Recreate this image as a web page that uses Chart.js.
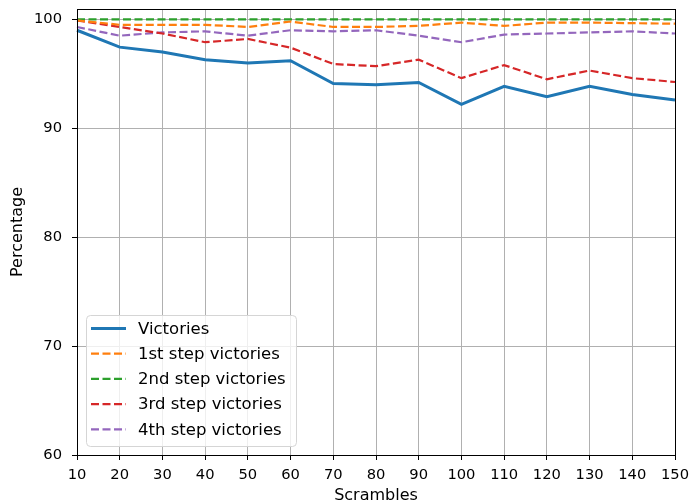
<!DOCTYPE html>
<html>
<head>
<meta charset="utf-8">
<script src="https://cdn.jsdelivr.net/npm/chart.js@4.4.0/dist/chart.umd.min.js"></script>
<style>
  html, body { margin: 0; padding: 0; background: #fff; }
  #box { width: 690px; height: 503px; }
</style>
</head>
<body>
<div id="box"><canvas id="grafico"></canvas></div>
<script>
// scrambles (x axis)
const scrambles = [10, 20, 30, 40, 50, 60, 70, 80, 90, 100, 110, 120, 130, 140, 150];

// percentages
const victories = [99.0, 97.45, 97.0, 96.3, 96.0, 96.2, 94.1, 94.0, 94.2, 92.2, 93.85, 92.9, 93.85, 93.1, 92.6];
const step1 = [99.9, 99.5, 99.5, 99.5, 99.3, 99.8, 99.3, 99.3, 99.4, 99.7, 99.4, 99.7, 99.7, 99.65, 99.6];
const step2 = [100, 100, 100, 100, 100, 100, 100, 100, 100, 100, 100, 100, 100, 100, 100];
const step3 = [99.9, 99.3, 98.7, 97.9, 98.2, 97.4, 95.9, 95.7, 96.3, 94.6, 95.8, 94.5, 95.3, 94.6, 94.25];
const step4 = [99.3, 98.5, 98.8, 98.9, 98.5, 99.0, 98.9, 99.0, 98.5, 97.9, 98.6, 98.7, 98.8, 98.9, 98.7];

const yTicks = [60, 70, 80, 90, 100];

const fonteTicks = { family: 'DejaVu Sans', size: 14.7 };
const fonteTitulo = { family: 'DejaVu Sans', size: 16 };

function serie(nome, valores, cor, tracejado){
  return {
    label: nome,
    data: valores,
    borderColor: cor,
    backgroundColor: cor,
    borderWidth: tracejado ? 2.2 : 3,
    borderDash: tracejado ? [8, 3.5] : [],
    pointRadius: 0,
    tension: 0,
    fill: false
  };
}

// sem padding extra dos rotulos, quem manda e o layout.padding
function semPadding(scale){
  scale.paddingTop = 0;
  scale.paddingBottom = 0;
  scale.paddingLeft = 0;
  scale.paddingRight = 0;
}

// legenda desenhada dentro da area do grafico
const legendaInterna = {
  id: 'legendaInterna',
  afterDatasetsDraw(chart){
    const ctx = chart.ctx;
    const area = chart.chartArea;
    const x = area.left + 9;
    const h = 131;
    const y = area.bottom - 9 - h;
    const w = 210;
    ctx.save();
    ctx.beginPath();
    ctx.roundRect(x + 0.5, y + 0.5, w, h, 4);
    ctx.fillStyle = 'rgba(255,255,255,0.8)';
    ctx.fill();
    ctx.strokeStyle = '#d5d5d5';
    ctx.lineWidth = 1;
    ctx.stroke();
    ctx.font = '16.5px "DejaVu Sans"';
    ctx.textBaseline = 'middle';
    chart.data.datasets.forEach((ds, i) => {
      const cy = y + 13.5 + i * 25.2;
      ctx.beginPath();
      ctx.setLineDash(ds.borderDash);
      ctx.strokeStyle = ds.borderColor;
      ctx.lineWidth = ds.borderWidth;
      ctx.moveTo(x + 5, cy);
      ctx.lineTo(x + 40, cy);
      ctx.stroke();
      ctx.setLineDash([]);
      ctx.fillStyle = '#000';
      ctx.fillText(ds.label, x + 52, cy + 1);
    });
    ctx.restore();
  }
};

// moldura preta em volta da area
const moldura = {
  id: 'moldura',
  afterDraw(chart){
    const a = chart.chartArea;
    const ctx = chart.ctx;
    ctx.save();
    ctx.strokeStyle = '#000';
    ctx.lineWidth = 1;
    ctx.strokeRect(Math.round(a.left) + 0.5, Math.round(a.top) + 0.5,
      Math.round(a.right - a.left), Math.round(a.bottom - a.top));
    ctx.restore();
  }
};

const grafico = document.getElementById('grafico');
new Chart(grafico, {
  type: 'line',
  data: {
    labels: scrambles,
    datasets: [
      serie('Victories', victories, '#1f77b4', false),
      serie('1st step victories', step1, '#ff7f0e', true),
      serie('2nd step victories', step2, '#2ca02c', true),
      serie('3rd step victories', step3, '#d62728', true),
      serie('4th step victories', step4, '#9467bd', true)
    ]
  },
  options: {
    responsive: true,
    maintainAspectRatio: false,
    animation: false,
    layout: { padding: { top: 9, right: 15, left: 0, bottom: 0 } },
    plugins: {
      legend: { display: false },
      tooltip: { enabled: false }
    },
    scales: {
      x: {
        offset: false,
        grid: { color: '#b0b0b0', lineWidth: 1, tickColor: '#000', tickLength: 5, offset: false },
        border: { display: false },
        ticks: { color: '#000', font: fonteTicks, maxRotation: 0, autoSkip: false, padding: 6 },
        title: { display: true, text: 'Scrambles', color: '#000', font: fonteTitulo, padding: { top: 0, bottom: -2 } },
        afterFit(scale){ scale.height = 48; semPadding(scale); }
      },
      y: {
        min: 60,
        max: 100.95,
        afterBuildTicks(scale){ scale.ticks = yTicks.map(v => ({ value: v })); },
        grid: { color: '#b0b0b0', lineWidth: 1, tickColor: '#000', tickLength: 5 },
        border: { display: false },
        ticks: { color: '#000', font: fonteTicks, padding: 10 },
        title: { display: true, text: 'Percentage', color: '#000', font: fonteTitulo, padding: { top: 8, bottom: 0 } },
        afterFit(scale){ scale.width = 77; semPadding(scale); }
      }
    }
  },
  plugins: [legendaInterna, moldura]
});
</script>
</body>
</html>
